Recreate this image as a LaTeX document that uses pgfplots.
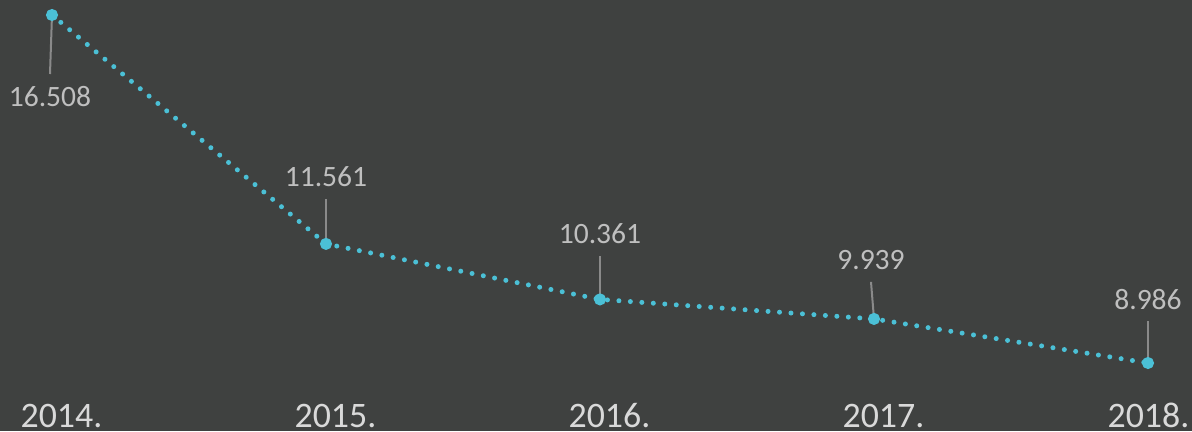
\documentclass[border=0pt]{standalone}
\usepackage{fontspec}
\setmainfont{Carlito}
\usepackage{pgfplots}
\pgfplotsset{compat=1.18}
\definecolor{bg}{HTML}{3F4140}
\definecolor{series}{HTML}{4BC0D6}
\definecolor{leader}{HTML}{8A8A8A}
\definecolor{vallabel}{HTML}{BFBFBF}
\definecolor{yearlabel}{HTML}{D9D9D9}
\tikzset{
  leader/.style={draw=leader, line width=0.02cm},
  val/.style={text=vallabel, font=\fontsize{8.4}{10}\selectfont, inner sep=0pt},
}
\begin{document}
\begin{tikzpicture}
\begin{axis}[
    scale only axis,
    width=11.92cm, height=4.31cm,
    xmin=-0.18978, xmax=4.16058,
    ymin=7.5161, ymax=16.8322,
    axis background/.style={fill=bg},
    axis line style={draw=none},
    clip=false,
    ytick=\empty,
    xtick={0,1,2,3},
    xticklabels={2014.,2015.,2016.,2017.},
    extra x ticks={4},
    extra x tick labels={2018.},
    extra x tick style={xticklabel style={xshift=-0.09cm}},
    major tick length=0pt,
    tick style={draw=none},
    xticklabel style={font=\fontsize{10.2}{12}\selectfont, text=yearlabel,
        anchor=base, yshift=0.04cm, xshift=0.095cm, inner sep=0pt},
]
  % leader lines and value labels (x: 0 = 2014 ... 4 = 2018)
  \draw[leader] (axis cs:0,16.508) -- ++(-0.02cm,-0.59cm)
      node[val, anchor=base, yshift=-0.32cm] {16.508};
  \draw[leader] (axis cs:1,11.561) -- ++(0cm,0.45cm)
      node[val, anchor=base, yshift=0.12cm] {11.561};
  \draw[leader] (axis cs:2,10.361) -- ++(0cm,0.43cm)
      node[val, anchor=base, yshift=0.13cm] {10.361};
  \draw[leader] (axis cs:3,9.939) -- ++(-0.03cm,0.37cm)
      node[val, anchor=base, yshift=0.12cm] {9.939};
  \draw[leader] (axis cs:4,8.986) -- ++(0cm,0.42cm)
      node[val, anchor=base, yshift=0.12cm] {8.986};

  \addplot[series, line width=0.05cm, line cap=round,
      dash pattern=on 0pt off 0.115cm,
      mark=*, mark size=0.034cm,
      mark options={solid, fill=series, draw=none}]
  coordinates {
      (0,16.508) (1,11.561) (2,10.361) (3,9.939) (4,8.986)
  };
\end{axis}
\end{tikzpicture}
\end{document}
